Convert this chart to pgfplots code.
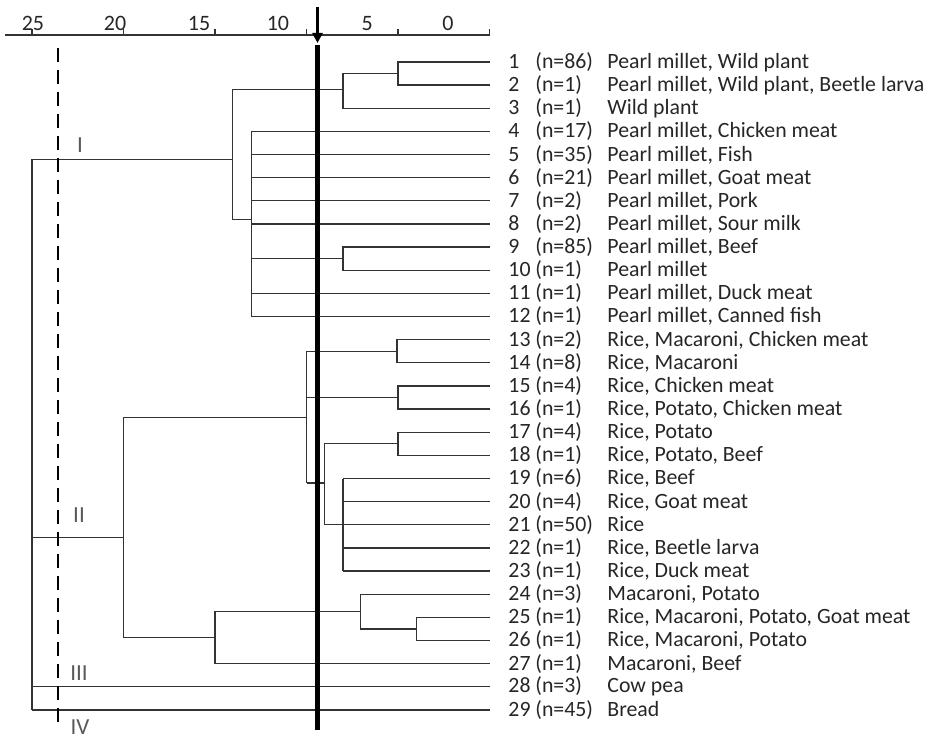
\documentclass[border=0pt]{standalone}
\usepackage{fontspec}
\setmainfont{Carlito}
\usepackage{pgfplots}
\pgfplotsset{compat=1.18}
\usetikzlibrary{arrows.meta}
\newcommand{\leaf}[3]{\makebox[13.5pt][l]{#1}\makebox[36pt][l]{(n=#2)}#3}
\pgfplotsset{dend/.style={black!80, line width=0.65pt, mark=none, solid, sharp plot}}
\begin{document}
\begin{tikzpicture}
\path[use as bounding box] (0,0) rectangle (464pt,370pt);
\begin{axis}[
  at={(2.275pt,0pt)}, anchor=south west,
  scale only axis, width=242.5pt, height=352.5pt,
  x dir=reverse, xmin=0, xmax=26.5, ymin=-30.30, ymax=0.1668,
  clip=false,
  /pgf/number format/assume math mode=true,
  axis x line*=top, axis y line*=right,
  y axis line style={draw=none},
  x axis line style={black!80, line width=0.65pt, -},
  xtick={0,5,10,15,20,25}, xticklabels={},
  tick align=outside, major tick length=3pt,
  xtick style={black!80, line width=0.65pt},
  extra x ticks={2.27,6.69,11.56,15.87,20.46,24.95},
  extra x tick labels={0,5,10,15,20,25},
  extra x tick style={major tick length=0pt, xticklabel style={inner sep=0pt, yshift=2pt, font=\fontsize{11}{12}\selectfont, text=black!85}},
  ytick={-1,-2,...,-29},
  ytick style={draw=none},
  yticklabels={
    {\leaf{1}{86}{Pearl millet, Wild plant}},
    {\leaf{2}{1}{Pearl millet, Wild plant, Beetle larva}},
    {\leaf{3}{1}{Wild plant}},
    {\leaf{4}{17}{Pearl millet, Chicken meat}},
    {\leaf{5}{35}{Pearl millet, Fish}},
    {\leaf{6}{21}{Pearl millet, Goat meat}},
    {\leaf{7}{2}{Pearl millet, Pork}},
    {\leaf{8}{2}{Pearl millet, Sour milk}},
    {\leaf{9}{85}{Pearl millet, Beef}},
    {\leaf{10}{1}{Pearl millet}},
    {\leaf{11}{1}{Pearl millet, Duck meat}},
    {\leaf{12}{1}{Pearl millet, Canned fish}},
    {\leaf{13}{2}{Rice, Macaroni, Chicken meat}},
    {\leaf{14}{8}{Rice, Macaroni}},
    {\leaf{15}{4}{Rice, Chicken meat}},
    {\leaf{16}{1}{Rice, Potato, Chicken meat}},
    {\leaf{17}{4}{Rice, Potato}},
    {\leaf{18}{1}{Rice, Potato, Beef}},
    {\leaf{19}{6}{Rice, Beef}},
    {\leaf{20}{4}{Rice, Goat meat}},
    {\leaf{21}{50}{Rice}},
    {\leaf{22}{1}{Rice, Beetle larva}},
    {\leaf{23}{1}{Rice, Duck meat}},
    {\leaf{24}{3}{Macaroni, Potato}},
    {\leaf{25}{1}{Rice, Macaroni, Potato, Goat meat}},
    {\leaf{26}{1}{Rice, Macaroni, Potato}},
    {\leaf{27}{1}{Macaroni, Beef}},
    {\leaf{28}{3}{Cow pea}},
    {\leaf{29}{45}{Bread}}
  },
  yticklabel style={anchor=west, inner sep=0pt, xshift=6.25pt, font=\fontsize{10.9}{12}\selectfont, text=black!85},
]
% Cluster I
\addplot[dend] coordinates {(0,-1) (5,-1) (5,-2) (0,-2)};
\addplot[dend] coordinates {(5,-1.5) (8,-1.5) (8,-3) (0,-3)};
\addplot[dend] coordinates {(0,-9) (8,-9) (8,-10) (0,-10)};
\addplot[dend] coordinates {(13,-4) (13,-12)};
\addplot[dend] coordinates {(0,-4) (13,-4)};
\addplot[dend] coordinates {(0,-5) (13,-5)};
\addplot[dend] coordinates {(0,-6) (13,-6)};
\addplot[dend] coordinates {(0,-7) (13,-7)};
\addplot[dend] coordinates {(0,-8) (13,-8)};
\addplot[dend] coordinates {(8,-9.5) (13,-9.5)};
\addplot[dend] coordinates {(0,-11) (13,-11)};
\addplot[dend] coordinates {(0,-12) (13,-12)};
\addplot[dend] coordinates {(8,-2.2) (14.05,-2.2) (14.05,-7.8) (13,-7.8)};
\addplot[dend] coordinates {(14.05,-5.2) (25,-5.2)};
% Cluster II
\addplot[dend] coordinates {(0,-13) (5.05,-13) (5.05,-14) (0,-14)};
\addplot[dend] coordinates {(0,-15) (5,-15) (5,-16) (0,-16)};
\addplot[dend] coordinates {(0,-17) (5,-17) (5,-18) (0,-18)};
\addplot[dend] coordinates {(8,-19) (8,-23)};
\addplot[dend] coordinates {(0,-19) (8,-19)};
\addplot[dend] coordinates {(0,-20) (8,-20)};
\addplot[dend] coordinates {(0,-21) (8,-21)};
\addplot[dend] coordinates {(0,-22) (8,-22)};
\addplot[dend] coordinates {(0,-23) (8,-23)};
\addplot[dend] coordinates {(5,-17.5) (9,-17.5) (9,-21) (8,-21)};
\addplot[dend] coordinates {(10,-13.5) (10,-19.2)};
\addplot[dend] coordinates {(5.05,-13.5) (10,-13.5)};
\addplot[dend] coordinates {(5,-15.5) (10,-15.5)};
\addplot[dend] coordinates {(9,-19.2) (10,-19.2)};
\addplot[dend] coordinates {(0,-25) (4,-25) (4,-26) (0,-26)};
\addplot[dend] coordinates {(0,-24) (7.05,-24) (7.05,-25.5) (4,-25.5)};
\addplot[dend] coordinates {(7.05,-24.75) (15,-24.75) (15,-27) (0,-27)};
\addplot[dend] coordinates {(10,-16.35) (20,-16.35) (20,-25.875) (15,-25.875)};
\addplot[dend] coordinates {(20,-21.55) (25,-21.55)};
% Root, III, IV
\addplot[dend] coordinates {(25,-5.2) (25,-29)};
\addplot[dend] coordinates {(0,-28) (25,-28)};
\addplot[dend] coordinates {(0,-29) (25,-29)};
% cut lines
\addplot[black, line width=2.35pt, mark=none, solid] coordinates {(9.4,-0.265) (9.4,-29.87)};
\addplot[black, line width=1.35pt, mark=none, solid, -{Triangle[length=5pt,width=5pt]}] coordinates {(9.4,1.377) (9.4,-0.179)};
\addplot[black, line width=1.35pt, mark=none, dash pattern=on 7pt off 4pt] coordinates {(23.58,-0.395) (23.58,-29.65)};
% cluster names
\node[text=black!65, font=\fontsize{11.5}{12}\selectfont] at (axis cs:22.38,-4.59) {I};
\node[text=black!65, font=\fontsize{11.5}{12}\selectfont] at (axis cs:22.43,-20.58) {II};
\node[text=black!65, font=\fontsize{11.5}{12}\selectfont] at (axis cs:22.43,-27.39) {III};
\node[text=black!65, font=\fontsize{11.5}{12}\selectfont, inner sep=0pt, anchor=south] at (axis cs:22.38,-30.08) {IV};
\end{axis}
\end{tikzpicture}
\end{document}
